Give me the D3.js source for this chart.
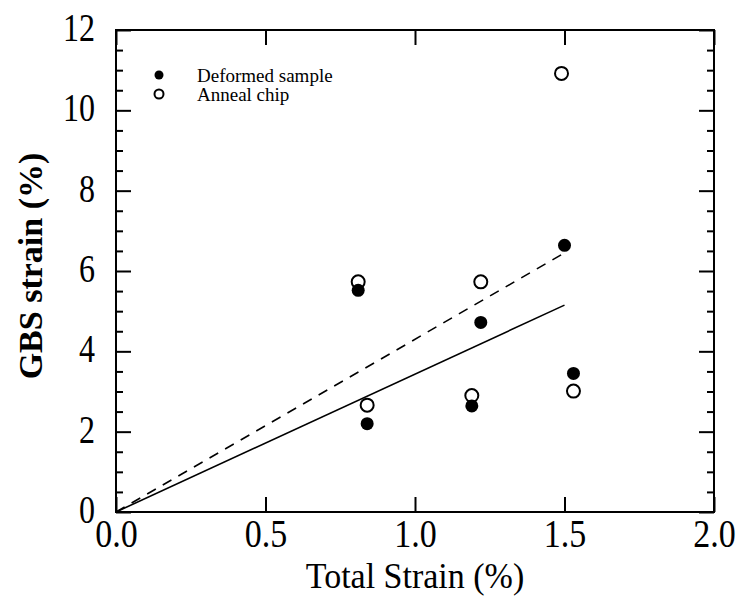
<!DOCTYPE html>
<html>
<head>
<meta charset="utf-8">
<script src="https://cdn.jsdelivr.net/npm/d3@7"></script>
<style>
  body { margin: 0; background: #fff; }
  svg { display: block; }
  text { font-family: "Liberation Serif", "Times New Roman", serif; fill: #000; }
</style>
</head>
<body>
<svg width="739" height="601"></svg>
<script>
// total strain (%) and GBS strain (%) for each sample
const totalStrain = [0.81, 0.84, 1.19, 1.22, 1.50, 1.53]
const deformedGBS = [5.52, 2.20, 2.64, 4.72, 6.64, 3.45]
const annealTotal = [0.81, 0.84, 1.19, 1.22, 1.49, 1.53]
const annealGBS = [5.73, 2.66, 2.90, 5.73, 10.92, 3.01]

// fitted lines through the origin (end points)
const fitDeformed = [[0, 0], [1.5, 5.15]]
const fitAnneal = [[0, 0], [1.5, 6.45]]

const xTicks = [0, 0.5, 1.0, 1.5, 2.0]
const yTicks = [0, 2, 4, 6, 8, 10, 12]
const yMinor = d3.range(0.5, 12, 0.5).filter(v => v % 2 !== 0)

const legendLabels = ['Deformed sample', 'Anneal chip']

const svg = d3.select('svg')
const margin = {top: 30, right: 25, bottom: 89, left: 116}
const width = 739 - margin.left - margin.right
const height = 601 - margin.top - margin.bottom
const g = svg.append('g').attr('transform', 'translate(' + margin.left + ',' + margin.top + ')')

const x = d3.scaleLinear().domain([0, 2]).range([0, width])
const y = d3.scaleLinear().domain([0, 12]).range([height, 0])

function tidy (sel) {
  sel.select('.domain').remove()
  sel.selectAll('.tick line').attr('stroke', '#000').attr('stroke-width', 2)
}

// x axis, bottom with labels, top without
const xAxis = g.append('g')
  .attr('transform', 'translate(0,' + height + ')')
  .call(d3.axisBottom(x).tickValues(xTicks).tickSize(-15).tickFormat(d3.format('.1f')))
  .call(tidy)
xAxis.selectAll('.tick text')
  .attr('y', 29)
  .attr('dy', null)
  .attr('font-size', 34)
  .attr('transform', 'scale(1,1.2)')

g.append('g')
  .call(d3.axisTop(x).tickValues(xTicks).tickSize(-15).tickFormat(''))
  .call(tidy)

// y axis, major + minor ticks on both sides
const yAxis = g.append('g')
  .call(d3.axisLeft(y).tickValues(yTicks).tickSize(-15).tickPadding(21).tickFormat(d3.format('d')))
  .call(tidy)
yAxis.selectAll('.tick text')
  .attr('y', 8.4)
  .attr('dy', null)
  .attr('font-size', 32)
  .attr('transform', 'scale(1,1.25)')

g.append('g')
  .call(d3.axisLeft(y).tickValues(yMinor).tickSize(-7).tickFormat(''))
  .call(tidy)

g.append('g')
  .attr('transform', 'translate(' + width + ',0)')
  .call(d3.axisRight(y).tickValues(yTicks).tickSize(-15).tickFormat(''))
  .call(tidy)

g.append('g')
  .attr('transform', 'translate(' + width + ',0)')
  .call(d3.axisRight(y).tickValues(yMinor).tickSize(-7).tickFormat(''))
  .call(tidy)

// frame
g.append('rect')
  .attr('width', width)
  .attr('height', height)
  .attr('fill', 'none')
  .attr('stroke', '#000')
  .attr('stroke-width', 2)

// fit lines
const line = d3.line().x(d => x(d[0])).y(d => y(d[1]))

g.append('path')
  .datum(fitDeformed)
  .attr('d', line)
  .attr('fill', 'none')
  .attr('stroke', '#000')
  .attr('stroke-width', 1.6)

g.append('path')
  .datum(fitAnneal)
  .attr('d', line)
  .attr('fill', 'none')
  .attr('stroke', '#000')
  .attr('stroke-width', 1.6)
  .attr('stroke-dasharray', '10,8')

// anneal chip points (open)
g.selectAll('.anneal')
  .data(annealTotal)
  .enter().append('circle')
  .attr('class', 'anneal')
  .attr('cx', d => x(d))
  .attr('cy', (d, i) => y(annealGBS[i]))
  .attr('r', 6.5)
  .attr('fill', '#fff')
  .attr('stroke', '#000')
  .attr('stroke-width', 2)

// deformed sample points (filled)
g.selectAll('.deformed')
  .data(totalStrain)
  .enter().append('circle')
  .attr('class', 'deformed')
  .attr('cx', d => x(d))
  .attr('cy', (d, i) => y(deformedGBS[i]))
  .attr('r', 6.5)
  .attr('fill', '#000')

// legend
const legend = g.append('g').attr('transform', 'translate(43,45)')
const legendEnter = legend.selectAll('g')
  .data(legendLabels)
  .enter().append('g')
  .attr('transform', (d, i) => 'translate(0,' + i * 19 + ')')

legendEnter.append('circle')
  .attr('r', 4.5)
  .attr('fill', (d, i) => i === 0 ? '#000' : '#fff')
  .attr('stroke', '#000')
  .attr('stroke-width', (d, i) => i === 0 ? 0 : 2)

legendEnter.append('text')
  .attr('x', 38)
  .attr('y', 6.5)
  .attr('font-size', 19)
  .text(d => d)

// axis titles
svg.append('text')
  .attr('text-anchor', 'middle')
  .attr('font-size', 34)
  .attr('transform', 'translate(' + (margin.left + width / 2) + ',588) scale(1,1.08)')
  .text('Total Strain (%)')

svg.append('text')
  .attr('text-anchor', 'middle')
  .attr('font-size', 34)
  .attr('font-weight', 'bold')
  .attr('transform', 'translate(42,' + (margin.top + height / 2 - 5) + ') rotate(-90)')
  .text('GBS strain (%)')
</script>
</body>
</html>
